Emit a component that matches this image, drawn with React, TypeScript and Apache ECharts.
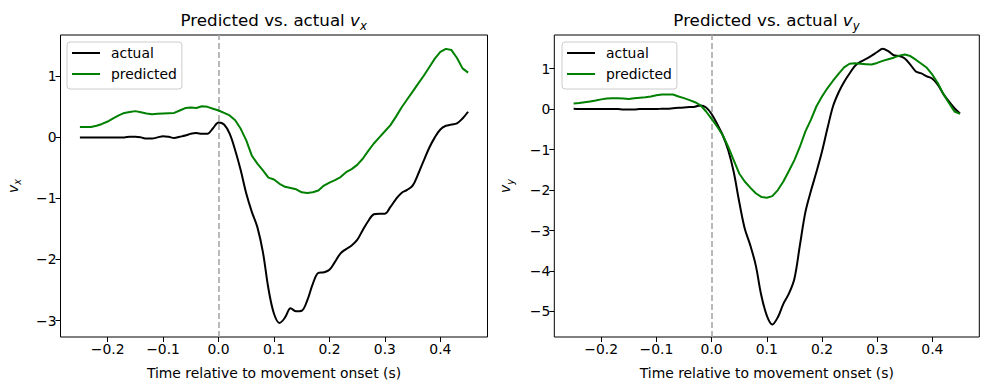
import React, { useEffect, useRef } from "react";
import * as echarts from "echarts";

const time = [
  -0.25, -0.24, -0.23, -0.22, -0.21, -0.2, -0.19, -0.18, -0.17, -0.16,
  -0.15, -0.14, -0.13, -0.12, -0.11, -0.1, -0.09, -0.08, -0.07, -0.06,
  -0.05, -0.04, -0.03, -0.02, -0.01, 0.0, 0.01, 0.02, 0.03, 0.04,
  0.05, 0.06, 0.07, 0.08, 0.09, 0.1, 0.11, 0.12, 0.13, 0.14,
  0.15, 0.16, 0.17, 0.18, 0.19, 0.2, 0.21, 0.22, 0.23, 0.24,
  0.25, 0.26, 0.27, 0.28, 0.29, 0.3, 0.31, 0.32, 0.33, 0.34,
  0.35, 0.36, 0.37, 0.38, 0.39, 0.4, 0.41, 0.42, 0.43, 0.44, 0.45,
];

const vxActual = [
  0.0, 0.0, 0.0, 0.0, 0.0, 0.0, 0.0, 0.0, 0.0, 0.01,
  0.01, 0.0, -0.02, -0.02, 0.0, 0.02, 0.01, -0.01, 0.01, 0.03,
  0.06, 0.07, 0.06, 0.06, 0.15, 0.245, 0.21, 0.06, -0.21, -0.54,
  -0.92, -1.22, -1.47, -1.88, -2.48, -2.89, -3.04, -2.95, -2.8, -2.85,
  -2.84, -2.67, -2.4, -2.22, -2.21, -2.17, -2.04, -1.9, -1.83, -1.77,
  -1.68, -1.52, -1.37, -1.26, -1.25, -1.25, -1.14, -1.01, -0.91, -0.86,
  -0.79, -0.6, -0.38, -0.17, 0.0, 0.13, 0.19, 0.21, 0.23, 0.31, 0.42,
];

const vxPredicted = [
  0.17, 0.17, 0.17, 0.19, 0.22, 0.26, 0.31, 0.36, 0.4, 0.415,
  0.43, 0.41, 0.39, 0.38, 0.385, 0.39, 0.395, 0.4, 0.44, 0.48,
  0.49, 0.48, 0.51, 0.5, 0.47, 0.44, 0.4, 0.36, 0.28, 0.14,
  -0.05, -0.3, -0.43, -0.54, -0.66, -0.69, -0.76, -0.81, -0.83, -0.85,
  -0.9, -0.91, -0.9, -0.87, -0.79, -0.74, -0.7, -0.65, -0.57, -0.52,
  -0.45, -0.35, -0.22, -0.1, 0.0, 0.1, 0.2, 0.34, 0.49, 0.62,
  0.75, 0.88, 1.01, 1.15, 1.29, 1.4, 1.45, 1.43, 1.3, 1.13, 1.06,
];

const vyActual = [
  0.01, 0.0, 0.0, 0.0, 0.0, 0.0, 0.0, 0.0, 0.0, -0.01,
  -0.01, -0.01, 0.0, 0.0, 0.0, 0.0, 0.01, 0.01, 0.02, 0.03,
  0.04, 0.05, 0.06, 0.09, 0.04, -0.12, -0.37, -0.64, -1.01, -1.55,
  -2.29, -2.95, -3.36, -3.86, -4.6, -5.1, -5.32, -5.14, -4.81, -4.56,
  -4.19, -3.36, -2.54, -2.02, -1.55, -1.05, -0.47, 0.07, 0.41, 0.67,
  0.88, 1.07, 1.17, 1.24, 1.32, 1.41, 1.49, 1.43, 1.33, 1.31,
  1.25, 1.1, 0.93, 0.88, 0.81, 0.75, 0.6, 0.37, 0.19, 0.02, -0.11,
];

const vyPredicted = [
  0.14, 0.15, 0.17, 0.19, 0.21, 0.24, 0.26, 0.27, 0.27, 0.26,
  0.25, 0.27, 0.28, 0.29, 0.31, 0.34, 0.36, 0.36, 0.36, 0.31,
  0.27, 0.22, 0.17, 0.09, -0.06, -0.24, -0.43, -0.64, -0.93, -1.26,
  -1.59, -1.79, -1.94, -2.08, -2.17, -2.19, -2.15, -2.0, -1.79, -1.53,
  -1.26, -0.93, -0.55, -0.26, 0.07, 0.31, 0.52, 0.7, 0.87, 1.03,
  1.12, 1.13, 1.12, 1.11, 1.1, 1.14, 1.19, 1.23, 1.27, 1.32,
  1.35, 1.31, 1.22, 1.12, 1.02, 0.85, 0.64, 0.37, 0.15, -0.06, -0.12,
];

const xTicks = [-0.2, -0.1, 0.0, 0.1, 0.2, 0.3, 0.4];
const vxTicks = [-3, -2, -1, 0, 1];
const vyTicks = [-5, -4, -3, -2, -1, 0, 1];
const seriesNames = ["actual", "predicted"];

const FONT = "DejaVu Sans";
const minus = (s: string) => s.replace("-", "\u2212");

function pairs(xs: number[], ys: number[]) {
  return xs.map((x, i) => [x, ys[i]]);
}

export default function App() {
  const ref = useRef<HTMLDivElement>(null);
  useEffect(() => {
    if (!ref.current) return;
    const chart = echarts.init(ref.current, null, { renderer: "svg" });

    const xAxisBase = (gridIndex: number) => ({
      type: "value",
      gridIndex,
      min: -0.285,
      max: 0.485,
      name: "Time relative to movement onset (s)",
      nameLocation: "middle",
      nameGap: 29,
      nameTextStyle: { fontFamily: FONT, fontSize: 13.9, color: "#000" },
      axisLine: { show: false, onZero: false },
      splitLine: { show: false },
      axisTick: {
        show: true,
        length: 5,
        inside: false,
        customValues: xTicks,
        lineStyle: { color: "#000", width: 1 },
      },
      axisLabel: {
        customValues: xTicks,
        margin: 5,
        fontFamily: FONT,
        fontSize: 13.9,
        color: "#000",
        formatter: (v: number) => minus(v.toFixed(1)),
      },
    });

    const yAxisBase = (gridIndex: number, min: number, max: number, ticks: number[], sub: string) => ({
      type: "value",
      gridIndex,
      min,
      max,
      name: `{i|v}{s|${sub}}`,
      nameLocation: "middle",
      nameRotate: 90,
      nameGap: gridIndex === 0 ? 38 : 39,
      nameTextStyle: {
        fontFamily: FONT,
        color: "#000",
        rich: {
          i: { fontFamily: FONT, fontStyle: "italic", fontSize: 13.9, lineHeight: 20, color: "#000" },
          s: { fontFamily: FONT, fontStyle: "italic", fontSize: 9.7, lineHeight: 10, verticalAlign: "bottom", color: "#000" },
        },
      },
      axisLine: { show: false, onZero: false },
      splitLine: { show: false },
      axisTick: {
        show: true,
        length: 5,
        inside: false,
        customValues: ticks,
        lineStyle: { color: "#000", width: 1 },
      },
      axisLabel: {
        customValues: ticks,
        margin: 4,
        fontFamily: FONT,
        fontSize: 13.9,
        color: "#000",
        formatter: (v: number) => minus(String(Math.round(v))),
      },
    });

    const vline = {
      silent: true,
      symbol: "none",
      z: 1,
      label: { show: false },
      lineStyle: { color: "#a8a8a8", type: [6, 3], width: 1.6 },
      data: [{ xAxis: 0 }],
    };

    const lineSeries = (name: string, data: number[], color: string, idx: number, withLine: boolean) => ({
      type: "line",
      name,
      xAxisIndex: idx,
      yAxisIndex: idx,
      data: pairs(time, data),
      showSymbol: false,
      symbol: "none",
      smooth: withLine ? 0.35 : false,
      z: 3,
      lineStyle: { color, width: 2 },
      itemStyle: { color },
      ...(withLine ? { markLine: vline } : {}),
    });

    const titleRich = {
      t: { fontFamily: FONT, fontSize: 16.7, fontWeight: "normal", color: "#000", lineHeight: 24 },
      i: { fontFamily: FONT, fontStyle: "italic", fontWeight: "normal", fontSize: 16.7, color: "#000", lineHeight: 24 },
      s: { fontFamily: FONT, fontStyle: "italic", fontWeight: "normal", fontSize: 11.7, color: "#000", lineHeight: 12, verticalAlign: "bottom" },
    };

    const legendBase = (left: number) => ({
      data: seriesNames,
      orient: "vertical",
      left,
      top: 42,
      icon: "rect",
      itemWidth: 28,
      itemHeight: 2,
      itemGap: 5,
      padding: [3, 5, 7, 5],
      backgroundColor: "rgba(255,255,255,0.8)",
      borderColor: "#cccccc",
      borderWidth: 1,
      borderRadius: 3,
      selectedMode: false,
      textStyle: { fontFamily: FONT, fontSize: 13.9, color: "#000", lineHeight: 16, padding: [0, 0, 0, 6] },
    });

    chart.setOption({
      animation: false,
      backgroundColor: "#fff",
      title: [
        {
          text: "{t|Predicted vs. actual }{i|v}{s|x}",
          left: 273.7,
          top: 8,
          textAlign: "center",
          padding: 0,
          textStyle: { fontWeight: "normal", rich: titleRich },
        },
        {
          text: "{t|Predicted vs. actual }{i|v}{s|y}",
          left: 766.5,
          top: 8,
          textAlign: "center",
          padding: 0,
          textStyle: { fontWeight: "normal", rich: titleRich },
        },
      ],
      legend: [legendBase(67), legendBase(562)],
      grid: [
        { left: 60.5, top: 35, width: 427, height: 302, show: true, borderColor: "#000", borderWidth: 1, backgroundColor: "transparent" },
        { left: 554.3, top: 35, width: 425, height: 302, show: true, borderColor: "#000", borderWidth: 1, backgroundColor: "transparent" },
      ],
      xAxis: [xAxisBase(0), xAxisBase(1)],
      yAxis: [
        yAxisBase(0, -3.27, 1.677, vxTicks, "x"),
        yAxisBase(1, -5.63, 1.83, vyTicks, "y"),
      ],
      series: [
        lineSeries("actual", vxActual, "#000000", 0, true),
        lineSeries("predicted", vxPredicted, "#008000", 0, false),
        lineSeries("actual", vyActual, "#000000", 1, true),
        lineSeries("predicted", vyPredicted, "#008000", 1, false),
      ],
    });
    return () => chart.dispose();
  }, []);

  return (
    <div
      ref={ref}
      style={{ position: "fixed", left: 0, top: 0, width: 990, height: 390, background: "#fff" }}
    />
  );
}
